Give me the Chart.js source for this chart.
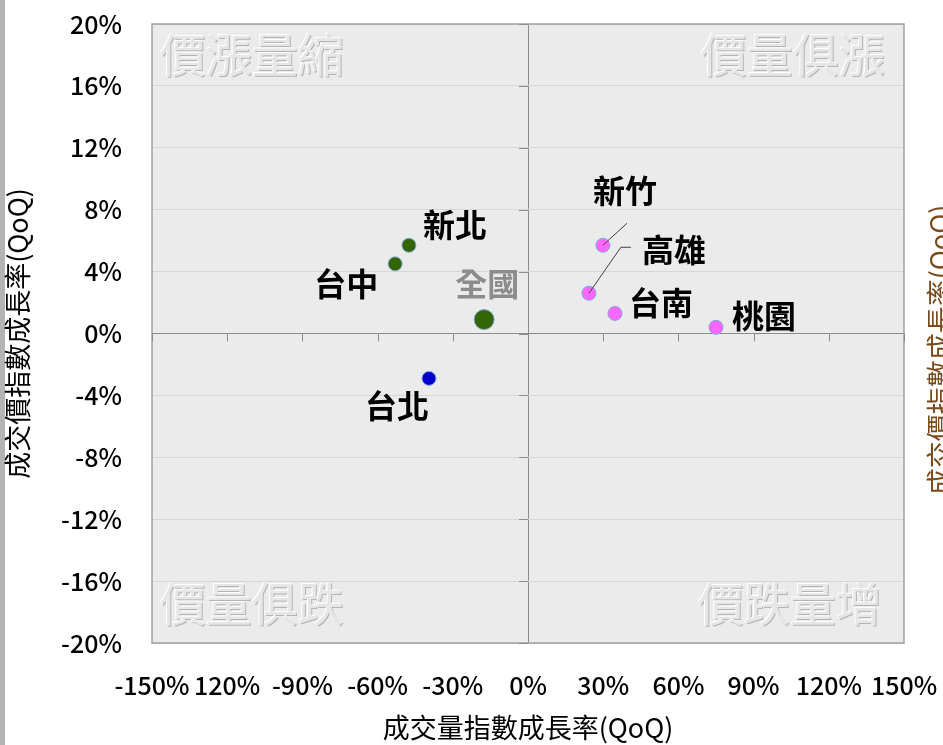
<!DOCTYPE html>
<html>
<head>
<meta charset="utf-8">
<script src="https://cdn.jsdelivr.net/npm/chart.js@4.4.0/dist/chart.umd.min.js"></script>
<style>
    html, body { margin: 0; padding: 0; background: #fff; }
    #c { display: block; }
</style>
</head>
<body>
<canvas id="c" width="943" height="745"></canvas>
<script>
// ---- data ----
const regions = ['台北', '新北', '桃園', '台中', '台南', '高雄', '新竹', '全國'];
const volumeGrowth = [-39.5, -47.5, 75.0, -53.0, 34.7, 24.3, 29.9, -17.5];   // x, %
const priceGrowth = [-2.9, 5.7, 0.4, 4.5, 1.3, 2.6, 5.7, 0.9];             // y, %
const xTickLabels = ['-150%', '120%', '-90%', '-60%', '-30%', '0%', '30%', '60%', '90%', '120%', '150%'];
const yTickLabels = ['-20%', '-16%', '-12%', '-8%', '-4%', '0%', '4%', '8%', '12%', '16%', '20%'];
const quadrantNames = ['價漲量縮', '價量俱漲', '價量俱跌', '價跌量增'];
const xTitle = '成交量指數成長率(QoQ)';
const yTitle = '成交價指數成長率(QoQ)';

const CJK = '"Noto Sans CJK TC", "Noto Sans", sans-serif';

// marker style per region
const pointStyleOf = {
    '台北': { fill: '#0000cc', r: 7 },
    '新北': { fill: '#336600', r: 7 },
    '台中': { fill: '#336600', r: 7 },
    '全國': { fill: '#336600', r: 10 },
    '桃園': { fill: '#ff66ff', r: 7 },
    '台南': { fill: '#ff66ff', r: 7 },
    '高雄': { fill: '#ff66ff', r: 7 },
    '新竹': { fill: '#ff66ff', r: 7 }
};

// label placement relative to the point (px)
const labelLayout = {
    '台北': { dx: -32, dy: 27 },
    '新北': { dx: 46, dy: -20 },
    '桃園': { dx: 48, dy: -11 },
    '台中': { dx: -49, dy: 20 },
    '台南': { dx: 46, dy: -11 },
    '高雄': { dx: 85, dy: -43, leader: [[42, -46], [32, -46], [0, 0]] },
    '新竹': { dx: 22, dy: -54, leader: [[24, -22], [0, 0]] },
    '全國': { dx: 3, dy: -36, color: '#8c8c8c' }
};

const points = regions.map((r, i) => ({ x: volumeGrowth[i], y: priceGrowth[i] }));

// background, frame, zero-axis ticks, quadrant words, point labels
const decorPlugin = {
    id: 'decor',
    beforeDraw(chart) {
        const { ctx, chartArea: a } = chart;
        ctx.save();
        ctx.fillStyle = '#b4b4b4';
        ctx.fillRect(0, 0, 5, chart.height);
        ctx.fillStyle = '#ebebeb';
        ctx.fillRect(a.left, a.top, a.right - a.left, a.bottom - a.top);

        // quadrant words, embossed look
        ctx.font = '46px ' + CJK;
        ctx.textBaseline = 'middle';
        const spots = [
            [a.left + 8, a.top + 31, 'left'],
            [a.right - 19, a.top + 31, 'right'],
            [a.left + 8, a.bottom - 39, 'left'],
            [a.right - 22, a.bottom - 39, 'right']
        ];
        spots.forEach((s, i) => {
            ctx.textAlign = s[2];
            ctx.fillStyle = '#b4b4b4';
            ctx.fillText(quadrantNames[i], s[0] + 1, s[1] + 1);
            ctx.fillStyle = '#ffffff';
            ctx.fillText(quadrantNames[i], s[0] - 1, s[1] - 1);
            ctx.fillStyle = '#e6e6e6';
            ctx.fillText(quadrantNames[i], s[0], s[1]);
        });
        ctx.restore();
    },
    afterDatasetsDraw(chart) {
        const { ctx, chartArea: a, scales } = chart;
        const x0 = scales.x.getPixelForValue(0);
        const y0 = scales.y.getPixelForValue(0);
        ctx.save();
        // frame
        ctx.strokeStyle = '#a0a0a0';
        ctx.lineWidth = 1.5;
        ctx.strokeRect(a.left, a.top, a.right - a.left, a.bottom - a.top);
        // tick marks on the zero lines
        ctx.strokeStyle = '#8c8c8c';
        ctx.lineWidth = 1;
        scales.x.ticks.forEach(t => {
            const px = Math.round(scales.x.getPixelForValue(t.value)) + 0.5;
            ctx.beginPath(); ctx.moveTo(px, y0); ctx.lineTo(px, y0 + 8); ctx.stroke();
        });
        scales.y.ticks.forEach(t => {
            const py = Math.round(scales.y.getPixelForValue(t.value)) + 0.5;
            ctx.beginPath(); ctx.moveTo(x0 - 9, py); ctx.lineTo(x0, py); ctx.stroke();
        });

        // labels
        const meta = chart.getDatasetMeta(0);
        ctx.font = 'bold 32px ' + CJK;
        ctx.textAlign = 'center';
        ctx.textBaseline = 'middle';
        meta.data.forEach((el, i) => {
            const name = regions[i];
            const lay = labelLayout[name];
            if (lay.leader) {
                ctx.strokeStyle = '#404040';
                ctx.lineWidth = 1;
                ctx.beginPath();
                lay.leader.forEach((p, k) => {
                    if (k === 0) ctx.moveTo(el.x + p[0], el.y + p[1]);
                    else ctx.lineTo(el.x + p[0], el.y + p[1]);
                });
                ctx.stroke();
            }
            ctx.fillStyle = lay.color || '#000000';
            ctx.fillText(name, el.x + lay.dx, el.y + lay.dy);
        });

        // cut-off secondary axis title on the right edge
        ctx.translate(940, 350);
        ctx.rotate(-Math.PI / 2);
        ctx.font = '27px ' + CJK;
        ctx.fillStyle = '#7a4a1a';
        ctx.fillText(yTitle, 0, 0);
        ctx.restore();
    }
};

new Chart(document.getElementById('c'), {
    type: 'scatter',
    data: {
        datasets: [{
            data: points,
            pointRadius: ctx => pointStyleOf[regions[ctx.dataIndex]].r,
            pointHoverRadius: ctx => pointStyleOf[regions[ctx.dataIndex]].r,
            pointBackgroundColor: ctx => pointStyleOf[regions[ctx.dataIndex]].fill,
            pointBorderColor: '#7fa8d8',
            pointBorderWidth: 1
        }]
    },
    options: {
        responsive: false,
        animation: false,
        layout: { padding: { top: 24, right: 39, left: 0, bottom: 0 } },
        plugins: { legend: { display: false }, tooltip: { enabled: false } },
        scales: {
            x: {
                type: 'linear',
                min: -150, max: 150,
                afterFit: s => { s.height = 102; s.paddingLeft = 0; s.paddingRight = 0; },
                border: { display: false },
                grid: {
                    drawTicks: false,
                    color: c => (c.tick && c.tick.value === 0) ? '#8c8c8c' : 'rgba(0,0,0,0)',
                    lineWidth: 1
                },
                ticks: {
                    stepSize: 30,
                    autoSkip: false,
                    maxRotation: 0,
                    padding: 27,
                    color: '#000',
                    font: { family: CJK, size: 25, weight: '500' },
                    callback: (v, i) => xTickLabels[i]
                },
                title: {
                    display: true, text: xTitle, color: '#000',
                    font: { family: CJK, size: 27 },
                    padding: { top: 0, bottom: 1 }
                }
            },
            y: {
                type: 'linear',
                min: -20, max: 20,
                afterFit: s => { s.width = 152; s.paddingTop = 0; s.paddingBottom = 0; },
                border: { display: false },
                grid: {
                    drawTicks: false,
                    color: c => (c.tick && c.tick.value === 0) ? '#8c8c8c' : '#d6d6d6',
                    lineWidth: 1
                },
                ticks: {
                    stepSize: 4,
                    autoSkip: false,
                    padding: 30,
                    color: '#000',
                    font: { family: CJK, size: 25, weight: '500' },
                    callback: (v, i) => yTickLabels[i]
                },
                title: {
                    display: true, text: yTitle, color: '#000',
                    font: { family: CJK, size: 27 },
                    padding: { top: 2, bottom: 0 }
                }
            }
        }
    },
    plugins: [decorPlugin]
});
</script>
</body>
</html>
